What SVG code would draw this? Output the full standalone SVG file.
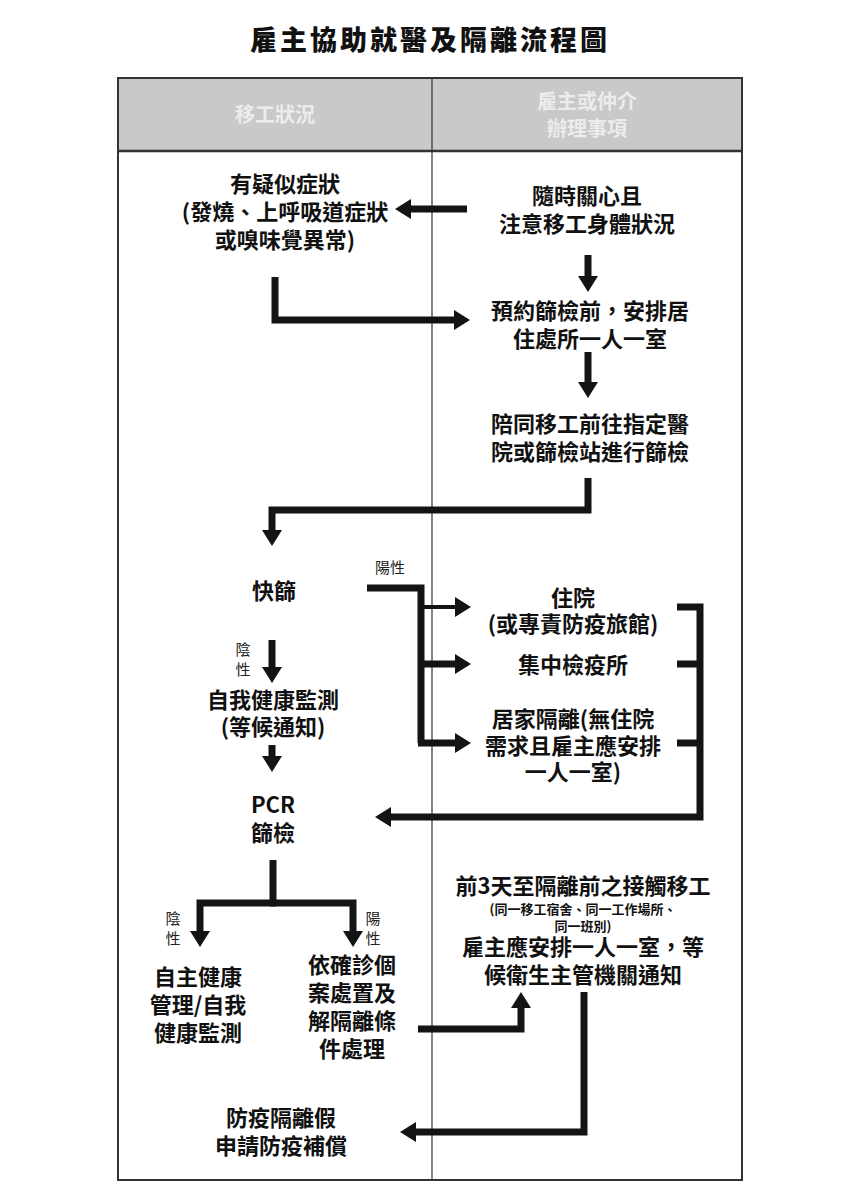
<svg xmlns="http://www.w3.org/2000/svg" width="849" height="1200" viewBox="0 0 849 1200">
<style>
.t{font-family:"Noto Sans CJK TC","Noto Sans CJK SC",sans-serif;font-weight:700;font-size:22px;fill:#111;text-anchor:middle}
.s{font-family:"Noto Sans CJK TC","Noto Sans CJK SC",sans-serif;font-weight:400;font-size:15px;fill:#222;text-anchor:middle}
.xs{font-family:"Noto Sans CJK TC","Noto Sans CJK SC",sans-serif;font-weight:700;font-size:13px;fill:#111;text-anchor:middle}
.h{font-family:"Noto Sans CJK TC","Noto Sans CJK SC",sans-serif;font-weight:700;font-size:20px;fill:#ececec;text-anchor:middle}
.c{fill:none;stroke:#141414;stroke-width:7;stroke-linejoin:miter;stroke-linecap:butt}
</style>
<defs>
<marker id="ah" viewBox="0 0 16 20" refX="0" refY="10" markerWidth="16" markerHeight="20" markerUnits="userSpaceOnUse" orient="auto">
<path d="M0,0 L16,10 L0,20 Z" fill="#141414"/>
</marker>
</defs>
<rect width="849" height="1200" fill="#fff"/>
<text x="430" y="50" font-family="'Noto Sans CJK TC',sans-serif" font-weight="900" font-size="27" text-anchor="middle" letter-spacing="3" fill="#111">雇主協助就醫及隔離流程圖</text>
<g id="table">
<rect x="118" y="78" width="624" height="73" fill="#c9c9c9"/>
<rect x="118" y="78" width="624" height="1102" fill="none" stroke="#333" stroke-width="2"/>
<line x1="118" y1="151" x2="742" y2="151" stroke="#333" stroke-width="2.5"/>
<line x1="432" y1="78" x2="432" y2="1180" stroke="#333" stroke-width="1.2"/>
<text class="h" x="275" y="122">移工狀況</text>
<text class="h" x="587" y="109">雇主或仲介</text>
<text class="h" x="587" y="136">辦理事項</text>
</g>
<g id="connectors">
<path class="c" d="M467,209 H411" marker-end="url(#ah)"/>
<path class="c" d="M588,255 V276" marker-end="url(#ah)"/>
<path class="c" d="M275,277 V320 H454" marker-end="url(#ah)"/>
<path class="c" d="M588,352 V382" marker-end="url(#ah)"/>
<path class="c" d="M588,478 V510 H272 V530" marker-end="url(#ah)"/>
<path class="c" d="M367,588 H421 V743"/>
<path class="c" d="M421,607 H455" style="stroke-width:4" marker-end="url(#ah)"/>
<path class="c" d="M421,664 H455" marker-end="url(#ah)"/>
<path class="c" d="M418,743 H455" marker-end="url(#ah)"/>
<path class="c" d="M677,607 H700 V817 H391" marker-end="url(#ah)"/>
<path class="c" d="M677,664 H700"/>
<path class="c" d="M677,743 H700"/>
<path class="c" d="M272,640 V667" marker-end="url(#ah)"/>
<path class="c" d="M272,745 V756" marker-end="url(#ah)"/>
<path class="c" d="M273,860 V903"/>
<path class="c" d="M276,903 H200 V931" marker-end="url(#ah)"/>
<path class="c" d="M270,903 H353 V931" marker-end="url(#ah)"/>
<path class="c" d="M418,1029 H521 V1008" marker-end="url(#ah)"/>
<path class="c" d="M584,992 V1132 H416" marker-end="url(#ah)"/>
</g>
<g id="n1"><text class="t" x="285" y="192">有疑似症狀</text><text class="t" x="285" y="220">(發燒、上呼吸道症狀</text><text class="t" x="285" y="248">或嗅味覺異常)</text></g>
<g id="n2"><text class="t" x="587" y="204">隨時關心且</text><text class="t" x="587" y="232">注意移工身體狀況</text></g>
<g id="n3"><text class="t" x="590" y="319">預約篩檢前，安排居</text><text class="t" x="590" y="347">住處所一人一室</text></g>
<g id="n4"><text class="t" x="590" y="432">陪同移工前往指定醫</text><text class="t" x="590" y="460">院或篩檢站進行篩檢</text></g>
<g id="n5"><text class="t" x="274" y="599">快篩</text></g>
<g id="lbl1"><text class="s" x="390" y="573">陽性</text></g>
<g id="lbl2"><text class="s" x="243" y="655">陰</text><text class="s" x="243" y="675">性</text></g>
<g id="n6"><text class="t" x="573" y="606">住院</text><text class="t" x="573" y="632">(或專責防疫旅館)</text></g>
<g id="n7"><text class="t" x="573" y="673">集中檢疫所</text></g>
<g id="n8"><text class="t" x="573" y="727">居家隔離(無住院</text><text class="t" x="573" y="754">需求且雇主應安排</text><text class="t" x="573" y="780">一人一室)</text></g>
<g id="n9"><text class="t" x="273" y="708">自我健康監測</text><text class="t" x="273" y="735">(等候通知)</text></g>
<g id="n10"><text class="t" x="273" y="813">PCR</text><text class="t" x="273" y="841">篩檢</text></g>
<g id="lbl3"><text class="s" x="173" y="924">陰</text><text class="s" x="173" y="944">性</text></g>
<g id="lbl4"><text class="s" x="373" y="924">陽</text><text class="s" x="373" y="944">性</text></g>
<g id="n11"><text class="t" x="198" y="985">自主健康</text><text class="t" x="198" y="1013">管理/自我</text><text class="t" x="198" y="1041">健康監測</text></g>
<g id="n12"><text class="t" x="352" y="973">依確診個</text><text class="t" x="352" y="1001">案處置及</text><text class="t" x="352" y="1029">解隔離條</text><text class="t" x="352" y="1057">件處理</text></g>
<g id="n13"><text class="t" x="583" y="894">前3天至隔離前之接觸移工</text><text class="xs" x="583" y="914">(同一移工宿舍、同一工作場所、</text><text class="xs" x="583" y="931">同一班別)</text><text class="t" x="583" y="955">雇主應安排一人一室，等</text><text class="t" x="583" y="983">候衛生主管機關通知</text></g>
<g id="n14"><text class="t" x="281" y="1126">防疫隔離假</text><text class="t" x="281" y="1154">申請防疫補償</text></g>
</svg>
